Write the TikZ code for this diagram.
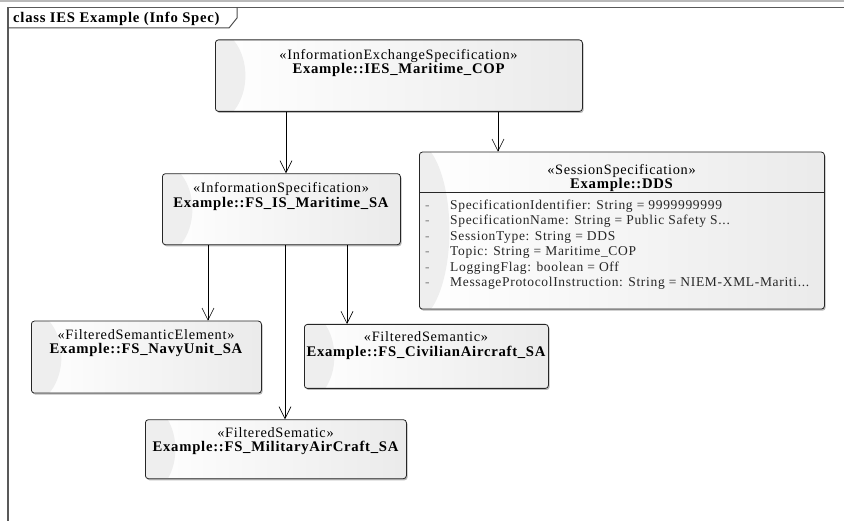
\documentclass[tikz,border=0pt]{standalone}
\usepackage{fontspec}
\setmainfont{Liberation Serif}[LetterSpace=5]
\usetikzlibrary{arrows.meta,shadows}
\tikzset{
  umlbox/.style={draw=black!85, line width=0.8pt, rounded corners=3pt,
    left color=white, right color=gray!16,
    drop shadow={shadow xshift=1.2pt, shadow yshift=-1.6pt, fill=gray!55, opacity=1},
    path picture={\fill[gray!13] ([xshift=-6pt]path picture bounding box.west) ellipse [x radius=36pt, y radius=#1];},
    anchor=north west, inner sep=0pt},
  umlbox/.default=48pt,
  stereo/.style={anchor=base, inner sep=0pt, font=\fontsize{14.3}{16}\selectfont},
  cname/.style={anchor=base, inner sep=0pt, font=\fontsize{14.7}{17}\selectfont\bfseries},
  attr/.style={anchor=base west, inner sep=0pt, font=\fontsize{13.5}{15}\selectfont, text=black!85},
  gen/.style={draw=black, line width=0.6pt, -{Straight Barb[length=12pt,width=12pt]}},
}
\begin{document}
\begin{tikzpicture}[x=1pt, y=-1pt]
\useasboundingbox (0,0) rectangle (844,521);

% diagram frame with its name tab
\draw[gray!55, line width=2pt] (0,1.2) -- (844,1.2);
\draw[black!65, line width=1.5pt] (844,7.5) -- (8,7.5) -- (8,521);
\draw[black!70, line width=1pt] (8,28) -- (229,28) -- (237,18) -- (237,7.5);
\node[anchor=base west, inner sep=0pt, font=\fontsize{14.7}{17}\selectfont\bfseries] (title) at (13,23) {class IES Example (Info Spec)};

% classes
\node[umlbox, minimum width=367pt, minimum height=71.5pt] (ies) at (215,39.5) {};
\node[umlbox, minimum width=238pt, minimum height=71pt] (fsis) at (162,173.3) {};
\node[umlbox=90pt, minimum width=405pt, minimum height=157pt] (dds) at (419,151.7) {};
\node[umlbox, minimum width=230pt, minimum height=72pt] (navy) at (31,320.7) {};
\node[umlbox, minimum width=244pt, minimum height=64pt] (civ) at (304,324) {};
\node[umlbox, minimum width=261pt, minimum height=59pt] (mil) at (145,419.3) {};

% class titles
\node[stereo] (ies-st) at (398.5,59.5) {«InformationExchangeSpecification»};
\node[cname]  (ies-nm) at (398.5,74) {Example::IES\_Maritime\_COP};
\node[stereo] (fsis-st) at (281,193) {«InformationSpecification»};
\node[cname]  (fsis-nm) at (281,208) {Example::FS\_IS\_Maritime\_SA};
\node[stereo] (dds-st) at (621.5,175) {«SessionSpecification»};
\node[cname]  (dds-nm) at (621.5,189) {Example::DDS};
\node[stereo] (navy-st) at (146,339.5) {«FilteredSemanticElement»};
\node[cname]  (navy-nm) at (146,354) {Example::FS\_NavyUnit\_SA};
\node[stereo] (civ-st) at (426,342) {«FilteredSemantic»};
\node[cname]  (civ-nm) at (426,356.5) {Example::FS\_CivilianAircraft\_SA};
\node[stereo] (mil-st) at (275.5,438) {«FilteredSematic»};
\node[cname]  (mil-nm) at (275.5,451.5) {Example::FS\_MilitaryAirCraft\_SA};

% attribute compartment of the session specification
\coordinate (sep) at (0,192.7);
\draw[black!85, line width=0.8pt] (dds.west |- sep) -- (dds.east |- sep);
\foreach \i/\txt in {0/{SpecificationIdentifier: String = 9999999999},
                     1/{SpecificationName: String = Public Safety S...},
                     2/{SessionType: String = DDS},
                     3/{Topic: String = Maritime\_COP},
                     4/{LoggingFlag: boolean = Off},
                     5/{MessageProtocolInstruction: String = NIEM-XML-Mariti...}}{
  \node[attr, text=gray] (dds-d\i) at (425,209.5+15.4*\i) {-};
  \node[attr] (dds-a\i) at (450,209.5+15.4*\i) {\txt};
}

% connectors
\coordinate (c1) at (286,0);
\coordinate (c2) at (498,0);
\coordinate (c3) at (208,0);
\coordinate (c4) at (285,0);
\coordinate (c5) at (347,0);
\draw[gen] (ies.south -| c1) -- (fsis.north -| c1);
\draw[gen] (ies.south -| c2) -- (dds.north -| c2);
\draw[gen] (fsis.south -| c3) -- (navy.north -| c3);
\draw[gen] (fsis.south -| c4) -- (mil.north -| c4);
\draw[gen] (fsis.south -| c5) -- (civ.north -| c5);
\end{tikzpicture}
\end{document}
